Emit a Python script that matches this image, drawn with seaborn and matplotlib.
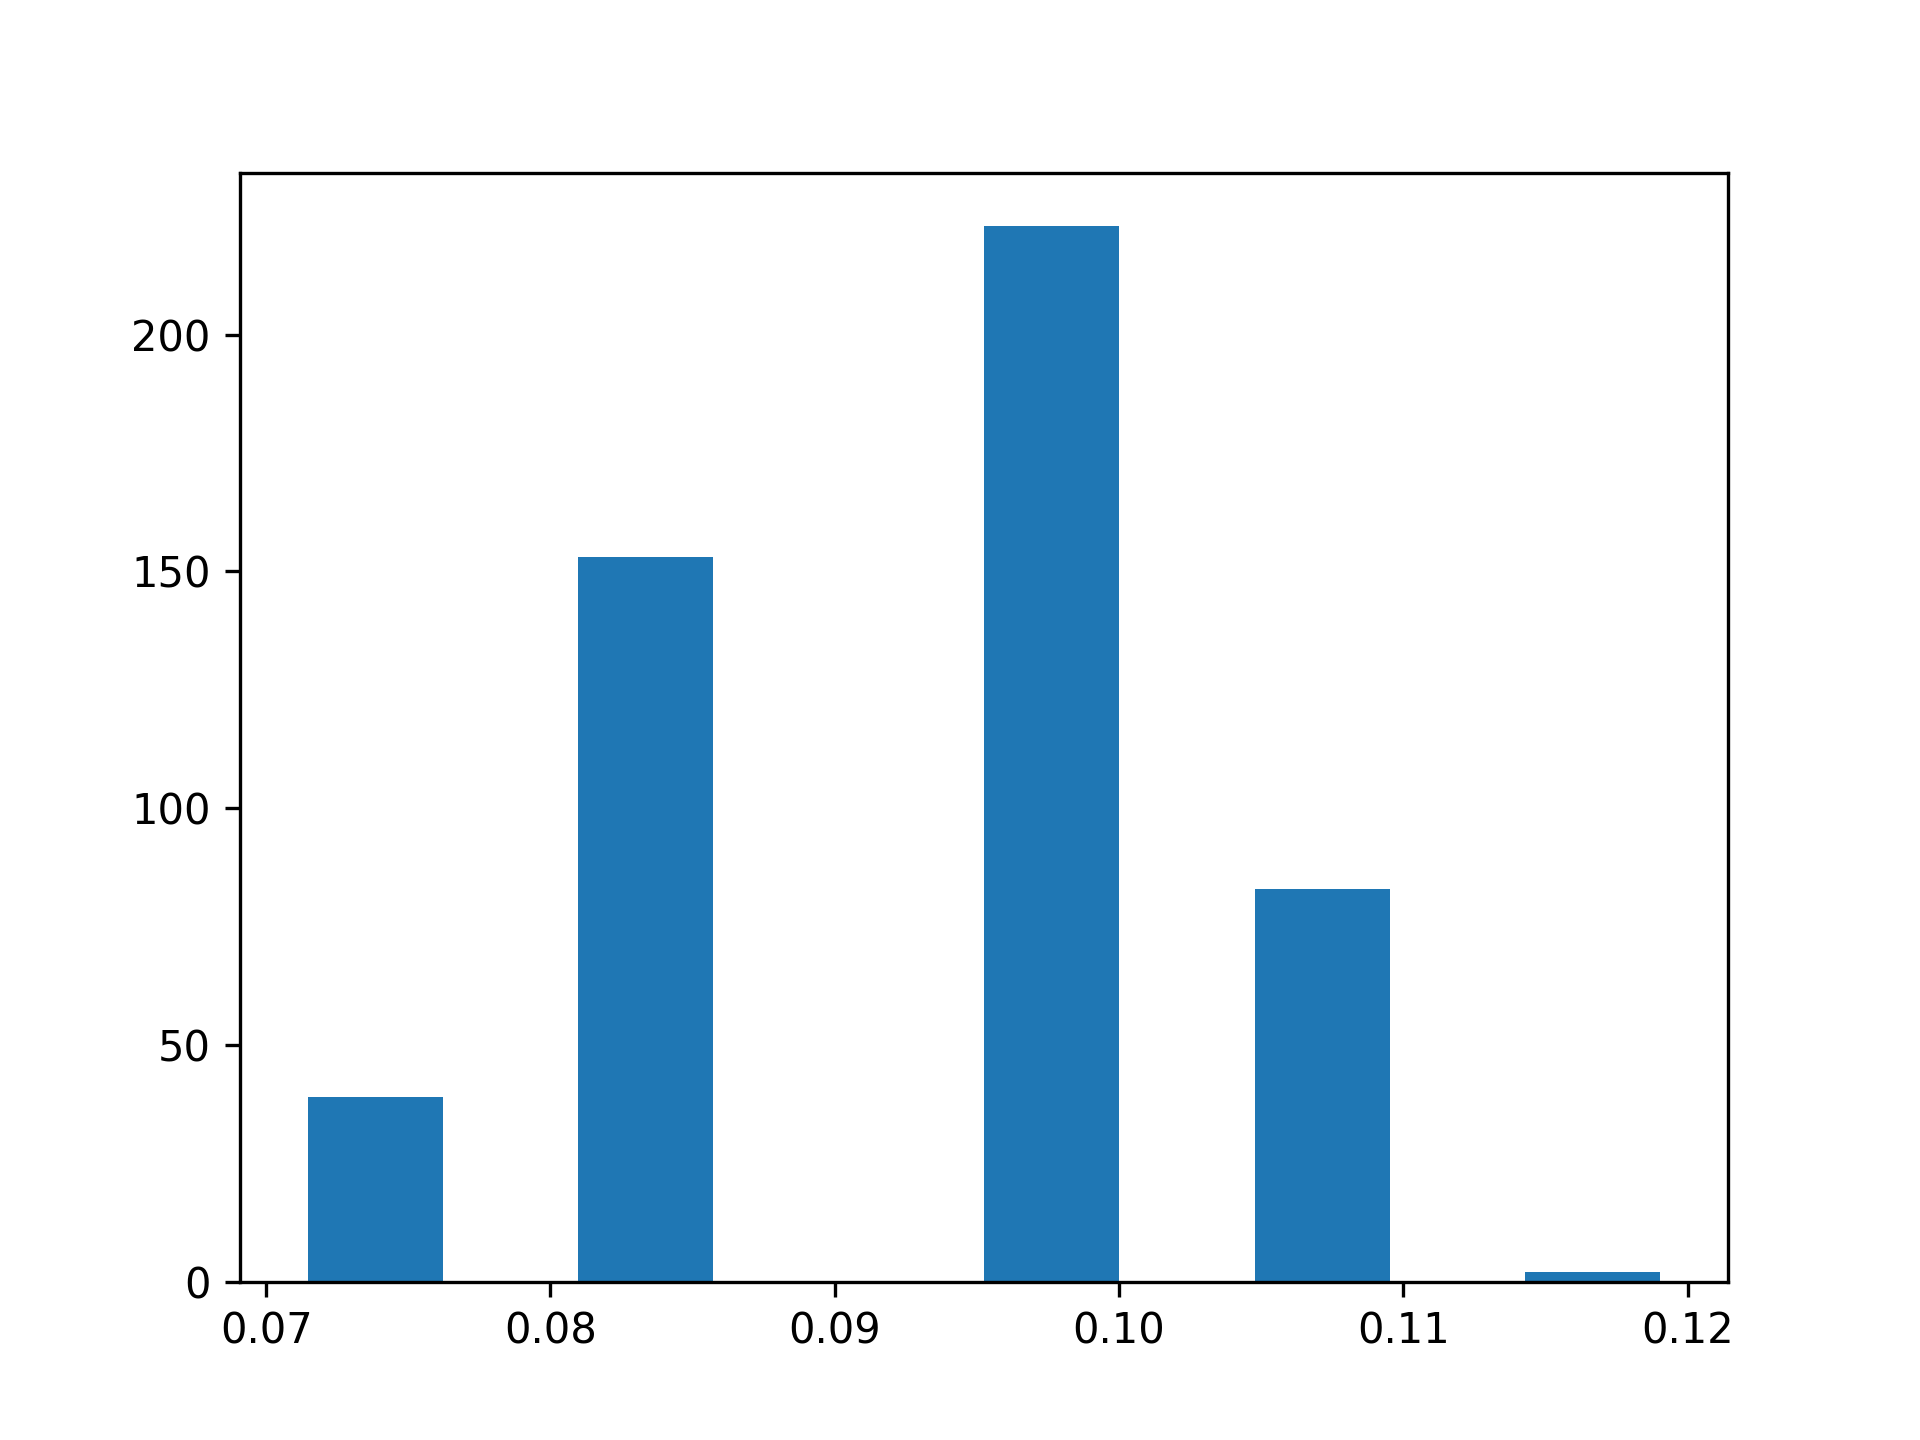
import numpy as np
import pandas as pd
import matplotlib
matplotlib.use("Agg")
import matplotlib.pyplot as plt
import seaborn as sns

# histogram: 10 equal bins
bin_lo = 0.07146
bin_hi = 0.11904
counts = [39, 0, 153, 0, 0, 223, 0, 83, 0, 2]

edges = np.linspace(bin_lo, bin_hi, len(counts) + 1)
centers = (edges[:-1] + edges[1:]) / 2
df = pd.DataFrame({"value": centers, "count": counts})

fig, ax = plt.subplots(figsize=(6.4, 4.8), dpi=300)
sns.histplot(data=df, x="value", weights="count", bins=len(counts),
             binrange=(bin_lo, bin_hi),
             color="#1f77b4", alpha=1, linewidth=0, ax=ax)
ax.set_xlabel("")
ax.set_ylabel("")
fig.savefig("out.png", dpi=300)
plt.close(fig)
